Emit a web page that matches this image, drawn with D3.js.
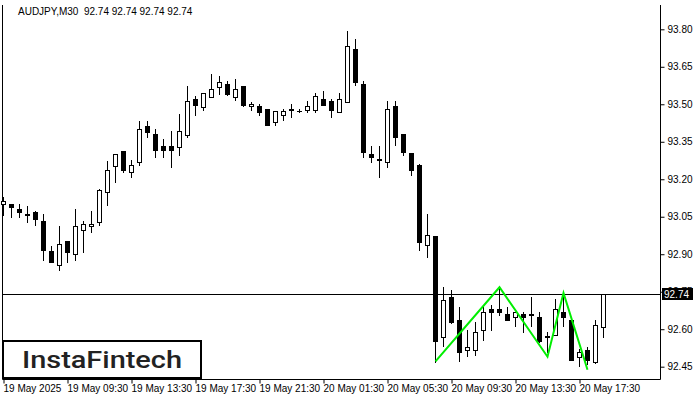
<!DOCTYPE html>
<html><head><meta charset="utf-8">
<script src="https://cdn.jsdelivr.net/npm/d3@7"></script>
<style>html,body{margin:0;padding:0;background:#fff;} svg{display:block;}</style>
</head><body><svg id="c" width="700" height="400"></svg>
<script>
const symbol = "AUDJPY,M30";
const opens = [93.099,93.099,93.079,93.060,93.070,93.031,92.911,92.857,92.951,92.901,92.998,93.011,93.028,93.151,93.252,93.312,93.230,93.269,93.412,93.380,93.332,93.332,93.329,93.379,93.520,93.490,93.530,93.570,93.581,93.530,93.573,93.492,93.492,93.480,93.429,93.459,93.478,93.472,93.479,93.479,93.520,93.512,93.470,93.510,93.721,93.581,93.300,93.281,93.269,93.492,93.380,93.304,93.256,92.938,92.971,92.567,92.730,92.637,92.516,92.516,92.597,92.681,92.681,92.660,92.650,92.661,92.657,92.650,92.571,92.577,92.670,92.637,92.487,92.516,92.467,92.607];
const highs = [93.131,93.102,93.099,93.091,93.071,93.059,92.931,93.011,92.952,93.079,93.031,93.071,93.160,93.272,93.301,93.313,93.279,93.432,93.432,93.403,93.360,93.392,93.460,93.573,93.532,93.545,93.621,93.614,93.593,93.601,93.574,93.511,93.500,93.481,93.473,93.480,93.500,93.483,93.512,93.546,93.553,93.520,93.546,93.793,93.761,93.593,93.332,93.332,93.512,93.512,93.381,93.305,93.260,93.059,92.973,92.770,92.758,92.690,92.598,92.630,92.690,92.698,92.768,92.690,92.670,92.670,92.730,92.670,92.587,92.721,92.741,92.638,92.520,92.527,92.637,92.742];
const lows = [93.055,93.048,93.048,93.028,93.018,92.876,92.867,92.836,92.868,92.876,92.908,92.988,93.018,93.098,93.189,93.229,93.209,93.259,93.369,93.289,93.289,93.249,93.297,93.369,93.459,93.476,93.529,93.540,93.539,93.516,93.495,93.476,93.456,93.418,93.419,93.439,93.449,93.469,93.470,93.470,93.498,93.449,93.469,93.509,93.577,93.289,93.269,93.209,93.249,93.336,93.296,93.218,92.915,92.888,92.470,92.534,92.626,92.474,92.494,92.496,92.557,92.597,92.657,92.636,92.614,92.587,92.614,92.547,92.507,92.576,92.614,92.475,92.453,92.460,92.466,92.567];
const closes = [93.113,93.088,93.068,93.058,93.040,92.916,92.868,92.939,92.908,93.011,93.019,93.019,93.158,93.238,93.300,93.236,93.259,93.403,93.389,93.316,93.319,93.319,93.392,93.512,93.499,93.544,93.561,93.591,93.540,93.561,93.496,93.500,93.470,93.419,93.472,93.472,93.480,93.472,93.492,93.532,93.499,93.479,93.520,93.733,93.590,93.309,93.289,93.279,93.480,93.369,93.309,93.238,92.948,92.977,92.554,92.718,92.627,92.507,92.530,92.590,92.670,92.667,92.667,92.637,92.669,92.647,92.659,92.554,92.569,92.681,92.647,92.476,92.510,92.476,92.617,92.740];
const timeLabels = ["19 May 2025","19 May 09:30","19 May 13:30","19 May 17:30","19 May 21:30","20 May 01:30","20 May 05:30","20 May 09:30","20 May 13:30","20 May 17:30"];
const timeLabelBars = [0,8,16,24,32,40,48,56,64,72];
const priceTicks = [92.45,92.60,92.75,92.90,93.05,93.20,93.35,93.50,93.65,93.80];
const currentPrice = 92.74;
const patternBars = [54,62,68,70,73];
const patternPrices = [92.471,92.768,92.490,92.745,92.438];
const brand = "InstaFintech";

const svg = d3.select("#c");
const FONT = "'Liberation Sans', Arial, sans-serif";
const L = 2.5, R = 660.5, T = 5, B = 379.5;
const x = d3.scaleLinear().domain([0, 75]).range([3.5, 603.5]);
const y = d3.scaleLinear().domain([92.45, 93.80]).range([366.7, 29.3]);
const ry = v => Math.round(y(v));

svg.append("rect").attr("width", 700).attr("height", 400).attr("fill", "#fff");

// frame
svg.append("path").attr("d", `M${L},${T}V${B}H${R}V${T}`).attr("fill", "none").attr("stroke", "#000").attr("stroke-width", 1);

// current price line
const cpY = Math.floor(y(currentPrice)) + 0.5;
svg.append("line").attr("x1", L).attr("x2", R).attr("y1", cpY).attr("y2", cpY).attr("stroke", "#000");

// candles
const data = opens.map((o, i) => ({i, o, h: highs[i], l: lows[i], c: closes[i]}));
const g = svg.append("g");
data.forEach(d => {
  const cx = x(d.i);
  g.append("line").attr("x1", cx).attr("x2", cx).attr("y1", ry(d.h)).attr("y2", ry(d.l) + 1).attr("stroke", "#000");
  const top = ry(Math.max(d.o, d.c)), bot = ry(Math.min(d.o, d.c));
  if (bot - top < 2) {
    g.append("rect").attr("x", cx - 2.5).attr("y", top).attr("width", 5).attr("height", Math.max(1, bot - top + 1)).attr("fill", "#000");
  } else if (d.c >= d.o) {
    g.append("rect").attr("x", cx - 2).attr("y", top + 0.5).attr("width", 4).attr("height", bot - top).attr("fill", "#fff").attr("stroke", "#000");
  } else {
    g.append("rect").attr("x", cx - 2.5).attr("y", top).attr("width", 5).attr("height", bot - top + 1).attr("fill", "#000");
  }
});

// pattern
const pts = patternBars.map((b, k) => [x(b), y(patternPrices[k])]);
svg.append("path").attr("d", d3.line()(pts)).attr("fill", "none").attr("stroke", "#00ee00").attr("stroke-width", 2);

// right axis
const ya = svg.append("g").attr("transform", `translate(${R},0)`)
  .call(d3.axisRight(y).tickValues(priceTicks).tickFormat(d3.format(".2f")).tickSize(4).tickPadding(3));
ya.select(".domain").remove();
ya.selectAll("text").attr("font-family", FONT).attr("font-size", 10).attr("fill", "#000");
ya.selectAll("line").attr("stroke", "#000");

// current price label
svg.append("rect").attr("x", 662).attr("y", Math.round(y(currentPrice)) - 6).attr("width", 31).attr("height", 12).attr("fill", "#000");
svg.append("text").attr("x", 664).attr("y", y(currentPrice)).attr("dy", "0.35em").attr("font-family", FONT).attr("font-size", 10).attr("fill", "#fff").text(currentPrice.toFixed(2));

// bottom axis
const xa = svg.append("g").attr("transform", `translate(0,${B})`)
  .call(d3.axisBottom(x).tickValues(timeLabelBars).tickFormat((d, k) => timeLabels[k]).tickSize(4).tickPadding(1));
xa.select(".domain").remove();
xa.selectAll("text").attr("font-family", FONT).attr("font-size", 10).attr("fill", "#000").attr("text-anchor", "start").attr("dx", -0.5);
xa.selectAll("line").attr("stroke", "#000");

// title
svg.append("text").attr("x", 18).attr("y", 15).attr("font-family", FONT).attr("font-size", 10).attr("fill", "#000")
  .style("white-space", "pre").attr("xml:space", "preserve")
  .text(`${symbol}  ${currentPrice.toFixed(2)} ${currentPrice.toFixed(2)} ${currentPrice.toFixed(2)} ${currentPrice.toFixed(2)}`);

// logo
svg.append("rect").attr("x", 3).attr("y", 341).attr("width", 198).attr("height", 37).attr("fill", "#fff").attr("stroke", "#000").attr("stroke-width", 2);
svg.append("text").attr("x", 22).attr("y", 368).attr("font-family", "Roboto, 'Open Sans', sans-serif").attr("font-weight", 500)
  .attr("font-size", 24).attr("fill", "#222").attr("textLength", 160).attr("lengthAdjust", "spacingAndGlyphs").text(brand);
</script>
</body></html>
